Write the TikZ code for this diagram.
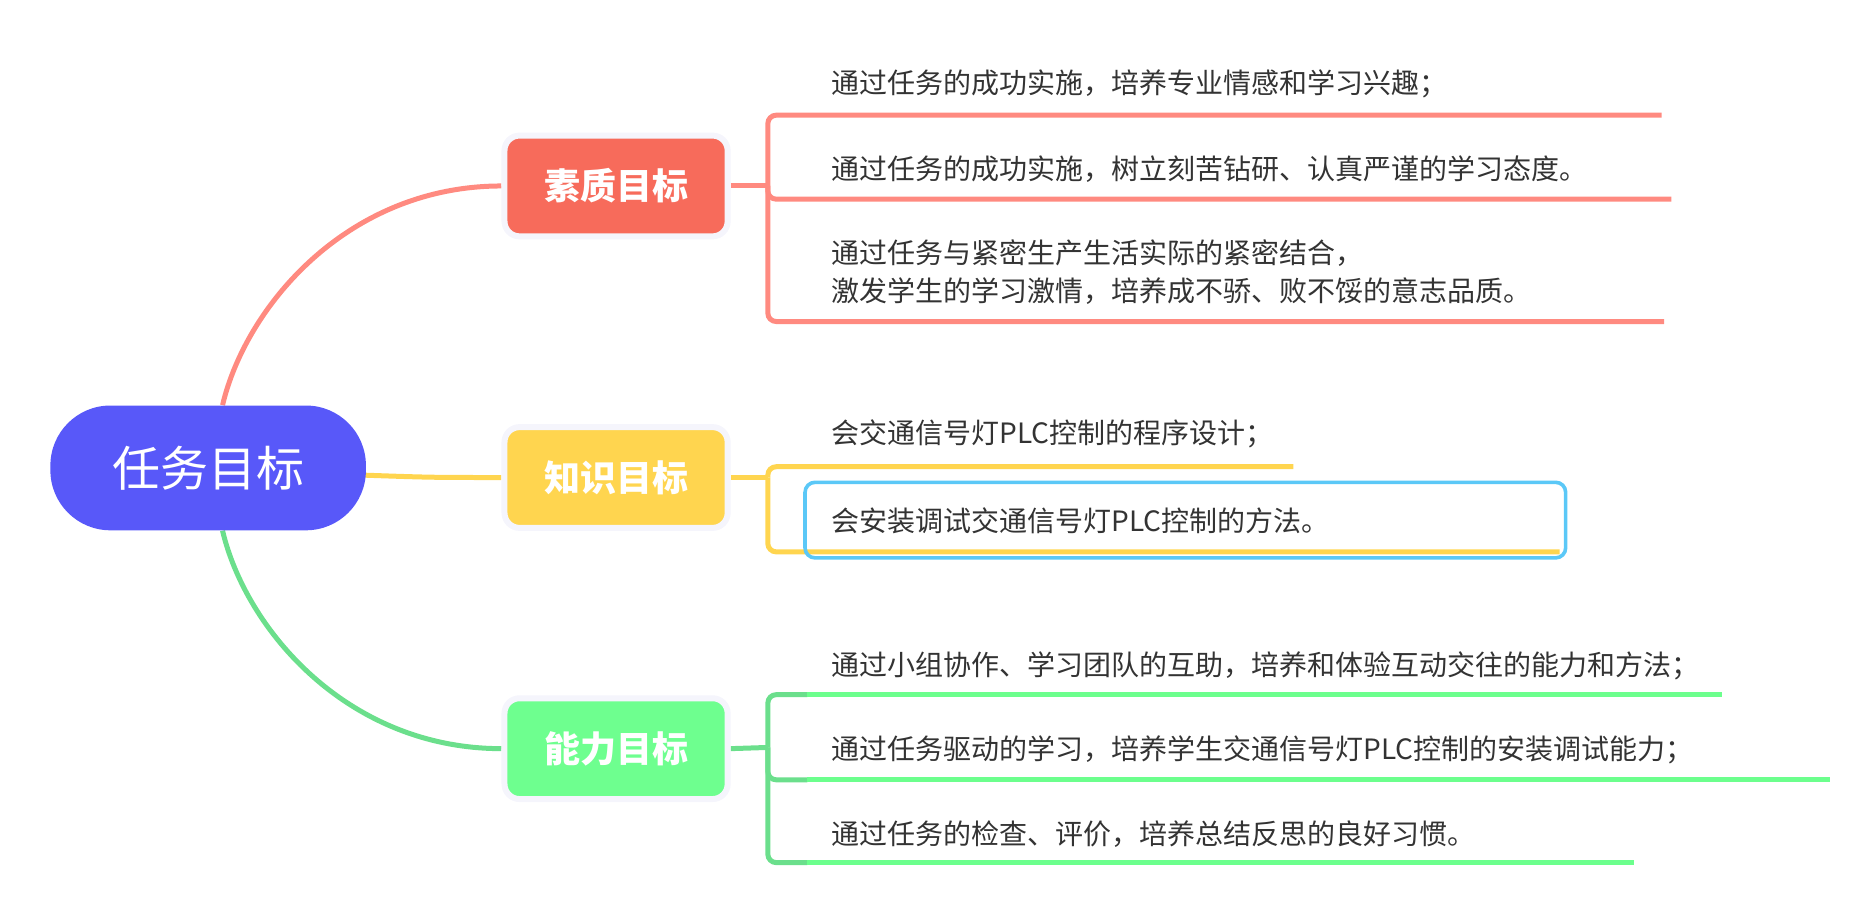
\documentclass[tikz,border=0pt]{standalone}
\usepackage{fontspec}
\newfontfamily\cjk{Noto Sans CJK SC}
\usetikzlibrary{calc,backgrounds}
\definecolor{cblue}{HTML}{5858F9}
\definecolor{credf}{HTML}{F76B5B}
\definecolor{credl}{HTML}{FF8A80}
\definecolor{cyelf}{HTML}{FFD54F}
\definecolor{cyell}{HTML}{FFD54F}
\definecolor{cgrnf}{HTML}{6EFF8F}
\definecolor{cgrnd}{HTML}{6BDF8C}
\definecolor{cgrnl}{HTML}{6CFF8D}
\definecolor{clav}{HTML}{F5F5FC}
\definecolor{csel}{HTML}{5BC8F7}
\definecolor{ctext}{HTML}{333333}
\begin{document}
\begin{tikzpicture}[x=0.6pt,y=-0.6pt,
  txt/.style={anchor=west, text=ctext, font=\cjk\fontsize{14pt}{19.2pt}\selectfont, inner sep=0pt, align=left},
  topic/.style={rounded corners=7.5pt, draw=clav, line width=3pt, minimum width=111.6pt, minimum height=50.4pt, text=white, font=\cjk\bfseries\fontsize{18pt}{22pt}\selectfont, inner sep=0pt},
  ln/.style={line width=2.5pt},
  corner/.style={ln, rounded corners=4.2pt},
]
\path[use as bounding box] (0,0) rectangle (1562,762);

% central node
\node[fill=cblue, rounded corners=30pt, minimum width=157.8pt, minimum height=62.4pt,
      text=white, font=\cjk\fontsize{24pt}{28pt}\selectfont, inner sep=0pt] (c) at (173.5,390) {任务目标};

% main topics
\node[topic, fill=credf] (r) at (513.5,155) {素质目标};
\node[topic, fill=cyelf] (y) at (513.5,398) {知识目标};
\node[topic, fill=cgrnf] (g) at (513.5,624) {能力目标};

% subtopic texts
\node[txt] (r1) at (693,70) {通过任务的成功实施，培养专业情感和学习兴趣；};
\node[txt] (r2) at (693,141) {通过任务的成功实施，树立刻苦钻研、认真严谨的学习态度。};
\node[txt] (r3) at (693,227) {通过任务与紧密生产生活实际的紧密结合，\\激发学生的学习激情，培养成不骄、败不馁的意志品质。};
\node[txt] (y1) at (693,362) {会交通信号灯PLC控制的程序设计；};
\node[txt] (y2) at (693,434) {会安装调试交通信号灯PLC控制的方法。};
\node[txt] (g1) at (693,555) {通过小组协作、学习团队的互助，培养和体验互动交往的能力和方法；};
\node[txt] (g2) at (693,625) {通过任务驱动的学习，培养学生交通信号灯PLC控制的安装调试能力；};
\node[txt] (g3) at (693,695) {通过任务的检查、评价，培养总结反思的良好习惯。};

% coordinates
\coordinate (jr) at (640,155);
\coordinate (jy) at (640,398);
\coordinate (jg) at (640,623);
\coordinate (r1e) at (1385,96);
\coordinate (r2e) at (1393,166);
\coordinate (r3e) at (1387,268);
\coordinate (y1e) at (1078,389);
\coordinate (y2e) at (1300,460);
\coordinate (g1m) at (673,579);
\coordinate (g2m) at (673,650);
\coordinate (g3m) at (673,719);
\coordinate (g1e) at (1435,579);
\coordinate (g2e) at (1525,650);
\coordinate (g3e) at (1362,719);

\begin{pgfonlayer}{background}
% central connectors
\draw[ln, credl] ($(c.north)+(12,0)$) .. controls (205,255) and (290,155) .. (r.west);
\draw[ln, cyell] ($(c.east)+(-3,6)$) .. controls (360,398) .. (y.west);
\draw[ln, cgrnd] ($(c.south)+(12,0)$) .. controls (205,525) and (290,624) .. (g.west);

% red bracket
\draw[ln, credl] (r.east) -- (jr);
\draw[corner, credl] (jr) |- (r1e);
\draw[corner, credl] (jr) |- (r2e);
\draw[corner, credl] (jr) |- (r3e);

% yellow bracket
\draw[ln, cyell] (y.east) -- (jy);
\draw[corner, cyell] (jy) |- (y1e);
\draw[corner, cyell] (jy) |- (y2e);

% green bracket
\draw[ln, cgrnd] (g.east) -- (jg);
\draw[corner, cgrnd] (jg) |- (g1m);
\draw[corner, cgrnd] (jg) |- (g2m);
\draw[corner, cgrnd] (jg) |- (g3m);
\draw[ln, cgrnl] (g1m) -- (g1e);
\draw[ln, cgrnl] (g2m) -- (g2e);
\draw[ln, cgrnl] (g3m) -- (g3e);
\end{pgfonlayer}

% selection frame
\node[draw=csel, line width=1.8pt, rounded corners=5pt, minimum width=380.4pt, minimum height=37.8pt, inner sep=0pt] (sel) at (988,433.5) {};
\end{tikzpicture}
\end{document}
